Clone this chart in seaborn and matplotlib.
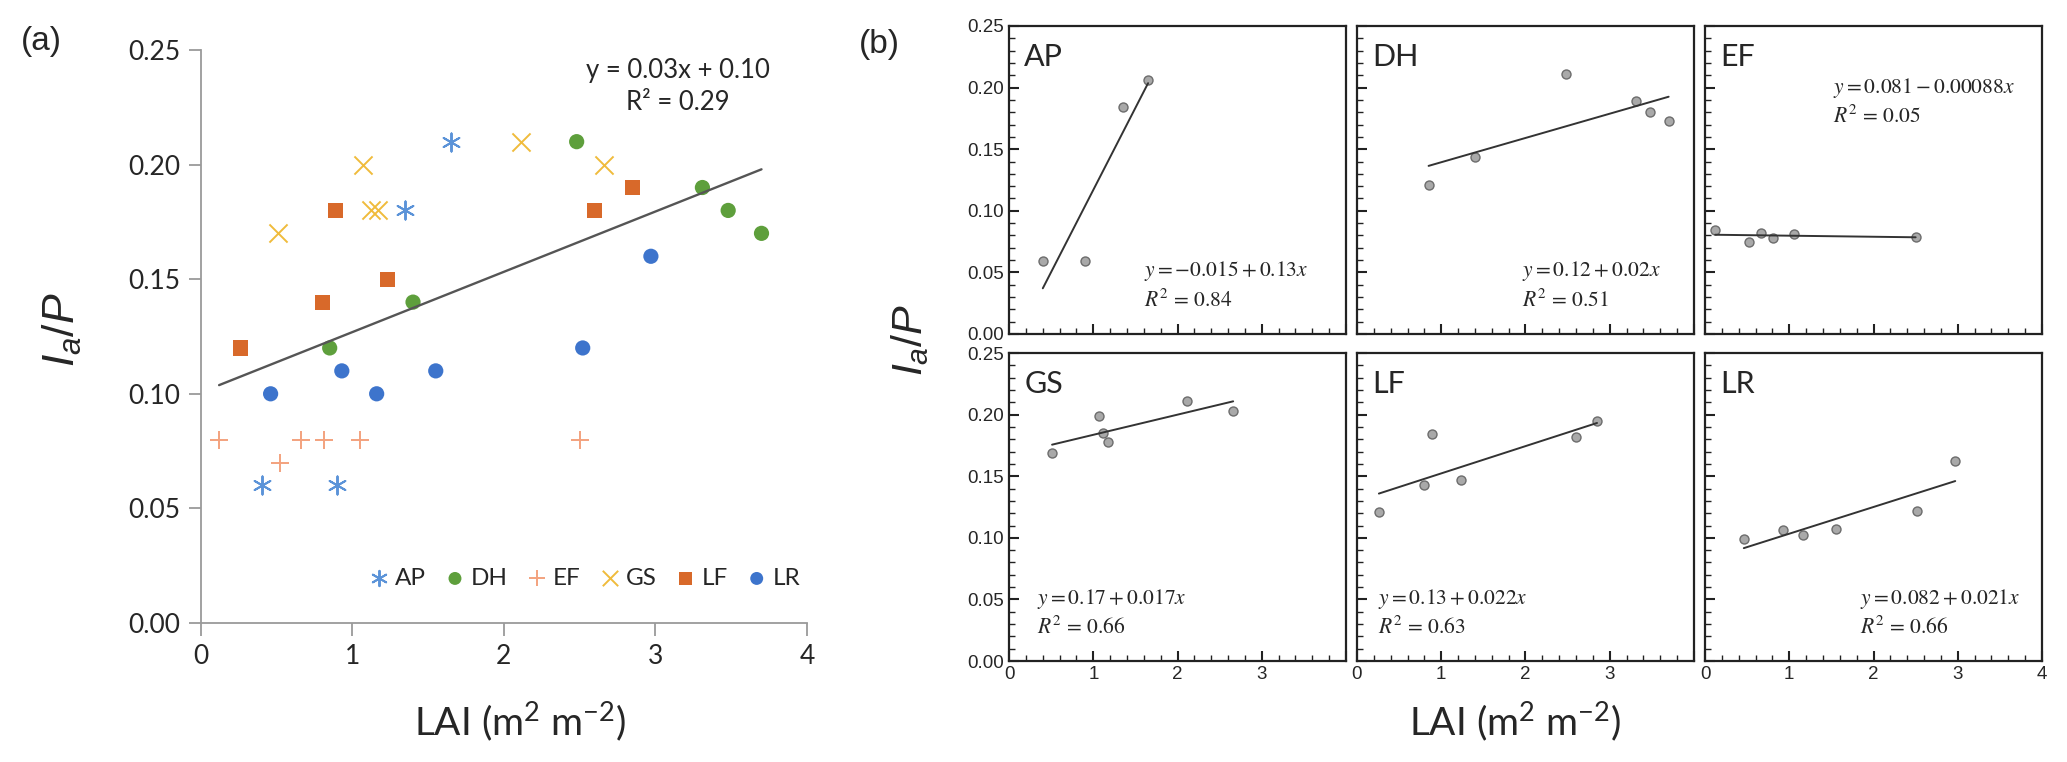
import numpy as np
import pandas as pd
import matplotlib
matplotlib.use("Agg")
import matplotlib.pyplot as plt
from matplotlib.ticker import MultipleLocator, FixedLocator
import seaborn as sns

# ----------------- data -----------------

groups = ["AP", "DH", "EF", "GS", "LF", "LR"]

# LAI (m2 m-2) per site
ap_lai = [0.40, 0.90, 1.35, 1.65]
dh_lai = [0.85, 1.40, 2.48, 3.31, 3.48, 3.70]
ef_lai = [0.12, 0.52, 0.66, 0.81, 1.05, 2.50]
gs_lai = [0.51, 1.07, 1.12, 1.17, 2.11, 2.66]
lf_lai = [0.26, 0.80, 0.89, 1.23, 2.60, 2.85]
lr_lai = [0.46, 0.93, 1.16, 1.55, 2.52, 2.97]

# Ia/P as shown in panel (a) (rounded)
ap_ratio_a = [0.06, 0.06, 0.18, 0.21]
dh_ratio_a = [0.12, 0.14, 0.21, 0.19, 0.18, 0.17]
ef_ratio_a = [0.08, 0.07, 0.08, 0.08, 0.08, 0.08]
gs_ratio_a = [0.17, 0.20, 0.18, 0.18, 0.21, 0.20]
lf_ratio_a = [0.12, 0.14, 0.18, 0.15, 0.18, 0.19]
lr_ratio_a = [0.10, 0.11, 0.10, 0.11, 0.12, 0.16]

# Ia/P as shown in panel (b)
ap_ratio_b = [0.059, 0.059, 0.184, 0.206]
dh_ratio_b = [0.121, 0.144, 0.211, 0.189, 0.180, 0.173]
ef_ratio_b = [0.084, 0.075, 0.082, 0.078, 0.081, 0.079]
gs_ratio_b = [0.169, 0.199, 0.185, 0.178, 0.211, 0.203]
lf_ratio_b = [0.121, 0.143, 0.184, 0.147, 0.182, 0.195]
lr_ratio_b = [0.099, 0.106, 0.102, 0.107, 0.122, 0.162]

eq_a = ["y = 0.03x + 0.10", "R² = 0.29"]

eq_b = [
    r"$y = -0.015 + 0.13x$",
    r"$y = 0.12 + 0.02x$",
    r"$y = 0.081 - 0.00088x$",
    r"$y = 0.17 + 0.017x$",
    r"$y = 0.13 + 0.022x$",
    r"$y = 0.082 + 0.021x$",
]
r2_b = ["0.84", "0.51", "0.05", "0.66", "0.63", "0.66"]

lai = [ap_lai, dh_lai, ef_lai, gs_lai, lf_lai, lr_lai]
ratio_a = [ap_ratio_a, dh_ratio_a, ef_ratio_a, gs_ratio_a, lf_ratio_a, lr_ratio_a]
ratio_b = [ap_ratio_b, dh_ratio_b, ef_ratio_b, gs_ratio_b, lf_ratio_b, lr_ratio_b]

df_a = pd.concat(
    [pd.DataFrame({"site": g, "lai": x, "ratio": y}) for g, x, y in zip(groups, lai, ratio_a)],
    ignore_index=True)

# ----------------- style -----------------

sns.set_style("white")
plt.rcParams["font.family"] = ["Lato", "DejaVu Sans"]
plt.rcParams["mathtext.fontset"] = "custom"
plt.rcParams["mathtext.rm"] = "Liberation Sans"
plt.rcParams["mathtext.it"] = "Liberation Sans:italic"

colors = {"AP": "#5b93d8", "DH": "#5e9f3c", "EF": "#f3a27e",
          "GS": "#f0bb3c", "LF": "#d8692a", "LR": "#3d74cc"}
markers = {"AP": (6, 2, 0), "DH": "o", "EF": "+", "GS": "x", "LF": "s", "LR": "o"}
line_art = {"AP", "EF", "GS"}

fig = plt.figure(figsize=(20.67, 7.62), dpi=100)

# ----------------- panel (a) -----------------

ax = fig.add_axes([0.0972, 0.1824, 0.2932, 0.7520])

for g in groups:
    sub = df_a[df_a["site"] == g]
    if g in line_art:
        sns.scatterplot(x=sub["lai"], y=sub["ratio"], marker=markers[g], color=colors[g],
                        s=170, linewidth=1.4, label=g, ax=ax)
    else:
        sns.scatterplot(x=sub["lai"], y=sub["ratio"], marker=markers[g], color=colors[g],
                        s=120, edgecolor="none", label=g, ax=ax)

sns.regplot(x=df_a["lai"], y=df_a["ratio"], scatter=False, ci=None,
            color="#555555", line_kws={"lw": 1.7}, ax=ax)

ax.set_xlim(0, 4)
ax.set_ylim(0, 0.25)
ax.xaxis.set_major_locator(MultipleLocator(1))
ax.yaxis.set_major_locator(MultipleLocator(0.05))
ax.yaxis.set_major_formatter(lambda v, p: f"{v:.2f}")
ax.set_xlabel("")
ax.set_ylabel("")
sns.despine(ax=ax)
for s in ["left", "bottom"]:
    ax.spines[s].set_color("#9a9a9a")
    ax.spines[s].set_linewidth(1.3)
ax.tick_params(axis="both", direction="out", length=9, width=1.3, color="#9a9a9a",
               labelsize=19, pad=6, left=True, bottom=True)

ax.text(0.787, 0.937, "\n".join(eq_a), transform=ax.transAxes, ha="center",
        va="center", fontsize=18.5, linespacing=1.35)

leg = ax.legend(ncol=6, loc="center right", bbox_to_anchor=(1.005, 0.078),
                frameon=False, fontsize=17.5, handlelength=0.9, handletextpad=0.2,
                columnspacing=0.75, markerscale=0.85, borderaxespad=0)

# ----------------- panel (b) -----------------

lefts = [0.4882, 0.6565, 0.8249]
bottoms = [0.5617, 0.1325]
w, h = 0.1630, 0.4042

for i, g in enumerate(groups):
    row, col = divmod(i, 3)
    bx = fig.add_axes([lefts[col], bottoms[row], w, h])
    sns.regplot(x=lai[i], y=ratio_b[i], ci=None, ax=bx,
                scatter_kws={"s": 42, "color": "#a9a9a9", "edgecolor": "#6c6c6c",
                             "linewidths": 1.0, "alpha": 1},
                line_kws={"color": "#333333", "lw": 1.4})
    bx.set_xlim(0, 4)
    bx.set_ylim(0, 0.25)
    bx.xaxis.set_major_locator(FixedLocator([0, 1, 2, 3, 4]))
    bx.xaxis.set_minor_locator(MultipleLocator(0.2))
    bx.yaxis.set_major_locator(MultipleLocator(0.05))
    bx.yaxis.set_minor_locator(MultipleLocator(0.01))
    bx.yaxis.set_major_formatter(lambda v, p: f"{v:.2f}")
    for s in bx.spines.values():
        s.set_color("#222222")
        s.set_linewidth(1.6)
    bx.tick_params(which="major", direction="in", length=7, width=1.5, color="#222222",
                   labelsize=13.5, top=False, right=False, left=True, bottom=True)
    bx.tick_params(which="minor", direction="in", length=4, width=1.0, color="#222222",
                   top=False, right=False, left=True, bottom=True)

    if row == 0:
        bx.tick_params(labelbottom=False)
    if col != 0:
        bx.tick_params(labelleft=False)
    fig.canvas.draw()
    for lab in bx.get_xticklabels() + bx.get_yticklabels():
        lab.set_fontfamily("Liberation Sans")
    if row == 1 and col < 2:
        bx.get_xticklabels()[-1].set_visible(False)
    if row == 1 and col == 0:
        bx.get_yticklabels()[-1].set_visible(False)

    bx.text(0.045, 0.90, g, transform=bx.transAxes, fontsize=22, va="center", ha="left")

    if g == "EF":
        ex, ey = 0.38, 0.80
    elif g == "AP":
        ex, ey = 0.40, 0.203
    elif g == "DH":
        ex, ey = 0.49, 0.203
    elif g == "GS":
        ex, ey = 0.083, 0.203
    elif g == "LF":
        ex, ey = 0.062, 0.203
    else:
        ex, ey = 0.46, 0.203
    bx.text(ex, ey, eq_b[i], transform=bx.transAxes, fontsize=15.5, va="center",
            ha="left", math_fontfamily="stix")
    bx.text(ex, ey - 0.095, r"$R^2$ = " + r2_b[i], transform=bx.transAxes, fontsize=15.5,
            va="center", ha="left", math_fontfamily="stix", family="STIXGeneral")

# ----------------- labels -----------------

fig.text(0.0300, 0.567, r"$I_a/P$", rotation=90, ha="center", va="center", fontsize=32)
fig.text(0.4403, 0.554, r"$I_a/P$", rotation=90, ha="center", va="center", fontsize=31)
fig.text(0.2516, 0.0525, r"LAI (m$^\mathregular{2}$ m$^\mathregular{-2}$)", ha="center",
         va="center", fontsize=28)
fig.text(0.733, 0.0525, r"LAI (m$^\mathregular{2}$ m$^\mathregular{-2}$)", ha="center",
         va="center", fontsize=28)

fig.text(0.0199, 0.946, "(a)", ha="center", va="center", fontsize=24, family="Liberation Sans")
fig.text(0.4253, 0.942, "(b)", ha="center", va="center", fontsize=24, family="Liberation Sans")

fig.savefig("out.png", dpi=100)
